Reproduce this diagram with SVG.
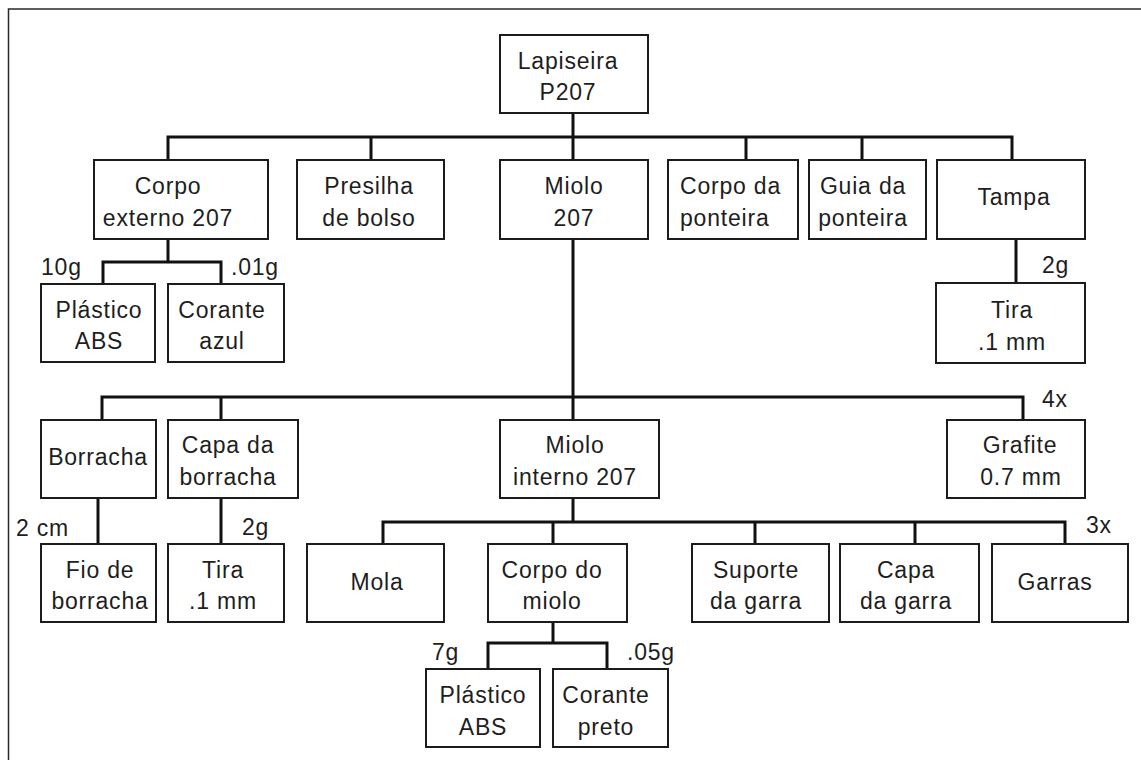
<svg xmlns="http://www.w3.org/2000/svg" width="1141" height="760" viewBox="0 0 1141 760">
  <style>
    .box { fill: #ffffff; stroke: #1c1c1c; stroke-width: 2; }
    .lbl { font-family: "Liberation Sans", Arial, sans-serif; font-size: 23px; letter-spacing: 0.8px; fill: #1e1e1e; text-anchor: middle; }
    .qty { font-family: "Liberation Sans", Arial, sans-serif; font-size: 23px; letter-spacing: 0.8px; fill: #1e1e1e; }
    .wire { fill: none; stroke: #111111; stroke-width: 3; stroke-linejoin: miter; stroke-linecap: butt; }
  </style>

  <rect x="0" y="0" width="1141" height="760" fill="#ffffff"/>
  <!-- page frame -->
  <rect x="8.5" y="9" width="1160" height="790" fill="none" stroke="#2a2a2a" stroke-width="1.5"/>

  <!-- connectors -->
  <g id="connectors">
    <path class="wire" d="M573 113 V160"/>
    <path class="wire" d="M168 160 V137 H1012 V160"/>
    <path class="wire" d="M371 137 V160 M746 137 V160 M862 137 V160"/>

    <path class="wire" d="M168 239 V262"/>
    <path class="wire" d="M103 284 V262 H221 V284"/>

    <path class="wire" d="M1016 239 V283"/>

    <path class="wire" d="M573 239 V420"/>
    <path class="wire" d="M102 420 V397 H1023 V420"/>
    <path class="wire" d="M221 397 V420"/>

    <path class="wire" d="M98 498 V544"/>
    <path class="wire" d="M221 498 V544"/>

    <path class="wire" d="M573 498 V522"/>
    <path class="wire" d="M383 544 V522 H1065 V544"/>
    <path class="wire" d="M553 522 V544 M755 522 V544 M915 522 V544"/>

    <path class="wire" d="M553 622 V643"/>
    <path class="wire" d="M488 669 V643 H607 V669"/>
  </g>

  <!-- quantity labels -->
  <g id="quantities">
    <text class="qty" x="41" y="275">10g</text>
    <text class="qty" x="231" y="275">.01g</text>
    <text class="qty" x="1042" y="273">2g</text>
    <text class="qty" x="1042" y="407">4x</text>
    <text class="qty" x="16" y="536">2 cm</text>
    <text class="qty" x="242" y="535">2g</text>
    <text class="qty" x="1086" y="533">3x</text>
    <text class="qty" x="432" y="660">7g</text>
    <text class="qty" x="627" y="660">.05g</text>
  </g>

  <!-- level 0 -->
  <g id="lapiseira">
    <rect class="box" x="500" y="35" width="148" height="78"/>
    <text class="lbl" x="568" y="69">Lapiseira</text>
    <text class="lbl" x="568" y="100">P207</text>
  </g>

  <!-- level 1 -->
  <g id="corpo-externo">
    <rect class="box" x="94" y="160" width="174" height="79"/>
    <text class="lbl" x="168" y="194">Corpo</text>
    <text class="lbl" x="168" y="226">externo 207</text>
  </g>
  <g id="presilha">
    <rect class="box" x="297" y="160" width="147" height="79"/>
    <text class="lbl" x="369" y="194">Presilha</text>
    <text class="lbl" x="369" y="226">de bolso</text>
  </g>
  <g id="miolo">
    <rect class="box" x="500" y="160" width="148" height="79"/>
    <text class="lbl" x="574" y="194">Miolo</text>
    <text class="lbl" x="574" y="226">207</text>
  </g>
  <g id="corpo-ponteira">
    <rect class="box" x="668" y="160" width="130" height="79"/>
    <text class="qty" x="680" y="194">Corpo da</text>
    <text class="qty" x="680" y="226">ponteira</text>
  </g>
  <g id="guia-ponteira">
    <rect class="box" x="809" y="160" width="117" height="79"/>
    <text class="lbl" x="863" y="194">Guia da</text>
    <text class="lbl" x="863" y="226">ponteira</text>
  </g>
  <g id="tampa">
    <rect class="box" x="937" y="160" width="148" height="79"/>
    <text class="lbl" x="1014" y="205">Tampa</text>
  </g>

  <!-- corpo externo parts -->
  <g id="plastico-abs-1">
    <rect class="box" x="41" y="284" width="114" height="78"/>
    <text class="lbl" x="99" y="318">Plástico</text>
    <text class="lbl" x="99" y="349">ABS</text>
  </g>
  <g id="corante-azul">
    <rect class="box" x="168" y="284" width="116" height="78"/>
    <text class="lbl" x="222" y="318">Corante</text>
    <text class="lbl" x="222" y="349">azul</text>
  </g>

  <!-- tampa part -->
  <g id="tira-tampa">
    <rect class="box" x="936" y="283" width="149" height="80"/>
    <text class="lbl" x="1012" y="318">Tira</text>
    <text class="lbl" x="1012" y="350">.1 mm</text>
  </g>

  <!-- level 2 -->
  <g id="borracha">
    <rect class="box" x="41" y="420" width="115" height="78"/>
    <text class="lbl" x="98" y="465">Borracha</text>
  </g>
  <g id="capa-borracha">
    <rect class="box" x="168" y="420" width="130" height="78"/>
    <text class="lbl" x="228" y="453">Capa da</text>
    <text class="lbl" x="228" y="485">borracha</text>
  </g>
  <g id="miolo-interno">
    <rect class="box" x="500" y="420" width="159" height="78"/>
    <text class="lbl" x="575" y="453">Miolo</text>
    <text class="lbl" x="575" y="485">interno 207</text>
  </g>
  <g id="grafite">
    <rect class="box" x="947" y="420" width="138" height="78"/>
    <text class="lbl" x="1020" y="453">Grafite</text>
    <text class="lbl" x="1021" y="485">0.7 mm</text>
  </g>

  <!-- level 3 -->
  <g id="fio-borracha">
    <rect class="box" x="41" y="544" width="115" height="78"/>
    <text class="lbl" x="100" y="578">Fio de</text>
    <text class="lbl" x="100" y="609">borracha</text>
  </g>
  <g id="tira-capa">
    <rect class="box" x="168" y="544" width="116" height="78"/>
    <text class="lbl" x="223" y="578">Tira</text>
    <text class="lbl" x="223" y="609">.1 mm</text>
  </g>
  <g id="mola">
    <rect class="box" x="307" y="544" width="137" height="78"/>
    <text class="lbl" x="377" y="590">Mola</text>
  </g>
  <g id="corpo-miolo">
    <rect class="box" x="488" y="544" width="139" height="78"/>
    <text class="lbl" x="552" y="578">Corpo do</text>
    <text class="lbl" x="552" y="609">miolo</text>
  </g>
  <g id="suporte-garra">
    <rect class="box" x="692" y="544" width="137" height="78"/>
    <text class="lbl" x="756" y="578">Suporte</text>
    <text class="lbl" x="756" y="609">da garra</text>
  </g>
  <g id="capa-garra">
    <rect class="box" x="840" y="544" width="139" height="78"/>
    <text class="lbl" x="906" y="578">Capa</text>
    <text class="lbl" x="906" y="609">da garra</text>
  </g>
  <g id="garras">
    <rect class="box" x="992" y="544" width="136" height="78"/>
    <text class="lbl" x="1055" y="590">Garras</text>
  </g>

  <!-- level 4 -->
  <g id="plastico-abs-2">
    <rect class="box" x="426" y="669" width="114" height="78"/>
    <text class="lbl" x="483" y="703">Plástico</text>
    <text class="lbl" x="483" y="735">ABS</text>
  </g>
  <g id="corante-preto">
    <rect class="box" x="553" y="669" width="115" height="78"/>
    <text class="lbl" x="606" y="703">Corante</text>
    <text class="lbl" x="606" y="735">preto</text>
  </g>
</svg>
